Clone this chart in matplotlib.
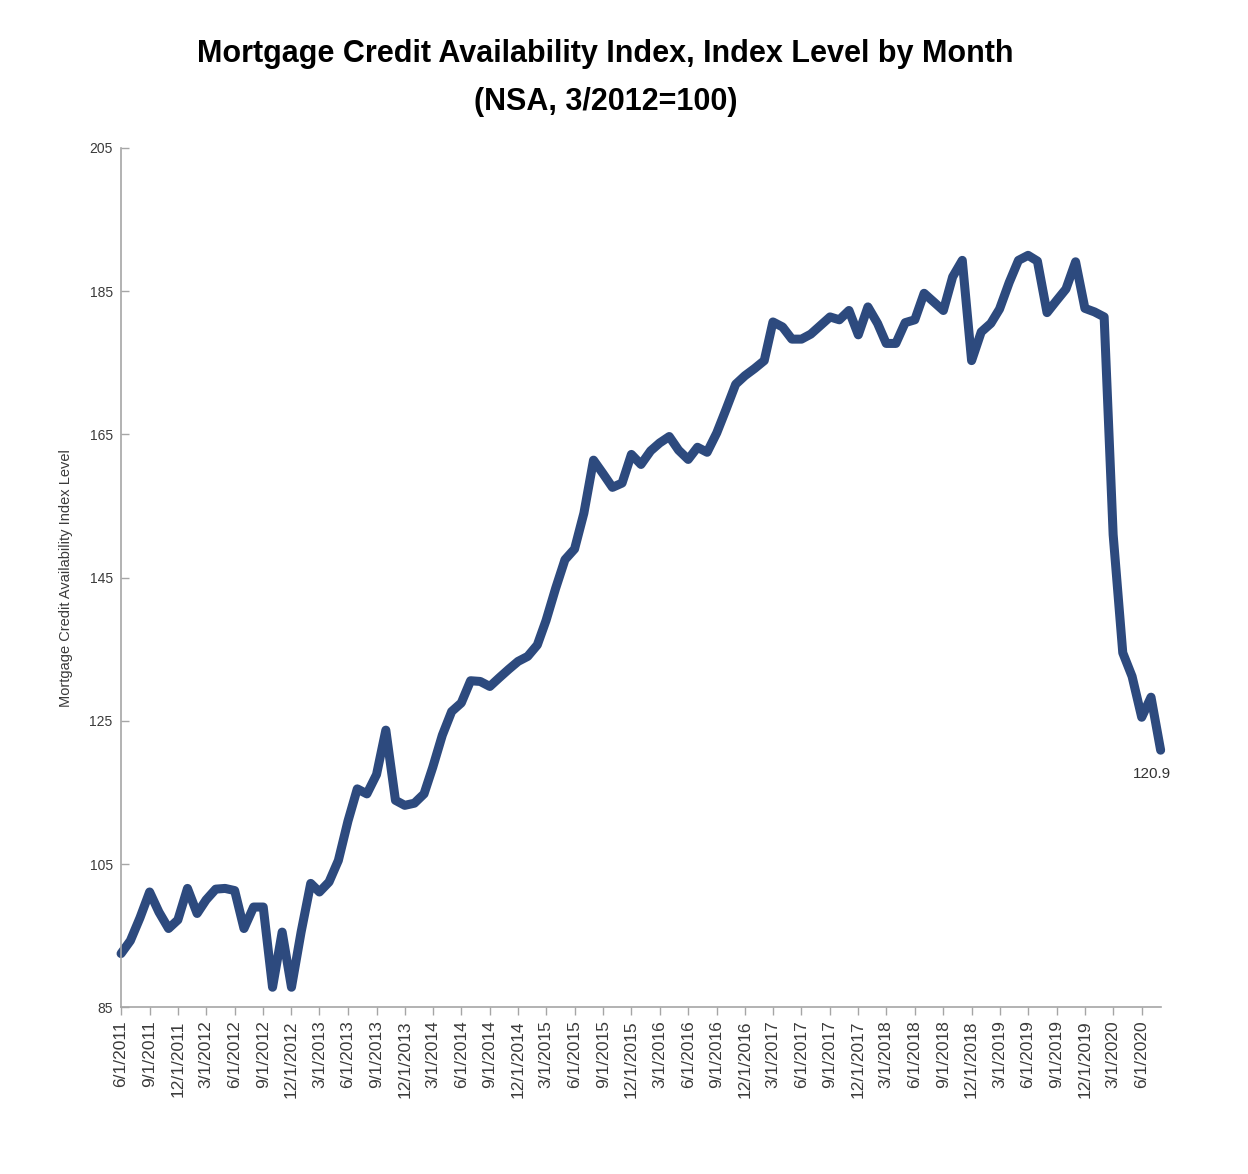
import matplotlib
matplotlib.use("Agg")
import matplotlib.pyplot as plt
import pandas as pd

# monthly index level, 6/2011 .. 8/2020
mcai = [
    92.5, 94.3, 97.5, 101.1, 98.3, 96.0, 97.2, 101.6, 98.1, 100.0,
    101.5, 101.6, 101.3, 96.0, 99.0, 99.0, 87.8, 95.5, 87.8, 95.5,
    102.3, 101.1, 102.5, 105.5, 111.0, 115.5, 114.8, 117.5, 123.7, 113.9,
    113.2, 113.5, 114.8, 118.5, 123.0, 126.3, 127.5, 130.6, 130.5, 129.8,
    131.0, 132.2, 133.3, 134.0, 135.6, 139.0, 143.5, 147.5, 149.0, 154.0,
    161.4, 159.5, 157.6, 158.2, 162.2, 160.8, 162.7, 163.8, 164.7, 162.8,
    161.5, 163.2, 162.5, 165.2, 168.5, 172.0, 173.2, 174.2, 175.3, 180.7,
    180.0, 178.3, 178.3, 179.0, 180.2, 181.4, 181.0, 182.3, 178.9, 182.8,
    180.5, 177.7, 177.7, 180.6, 181.0, 184.7, 183.5, 182.3, 187.0, 189.3,
    175.3, 179.3, 180.5, 182.5, 186.2, 189.3, 190.0, 189.2, 182.0, 183.7,
    185.3, 189.1, 182.6, 182.1, 181.4, 151.0, 134.5, 131.2, 125.5, 128.3,
    120.9,
]
start_month = "2011-06-01"
y_ticks = [85, 105, 125, 145, 165, 185, 205]
title = "Mortgage Credit Availability Index, Index Level by Month\n(NSA, 3/2012=100)"
y_label = "Mortgage Credit Availability Index Level"

months = pd.date_range(start_month, periods=len(mcai), freq="MS")
tick_months = months[::3]
tick_labels = [f"{d.month}/1/{d.year}" for d in tick_months]

plt.rcParams["font.family"] = ["Liberation Sans Narrow", "Liberation Sans", "DejaVu Sans"]

fig = plt.figure(figsize=(12.48, 11.74), dpi=100)
ax = fig.add_axes([0.097, 0.142, 0.833, 0.732])

ax.plot(months, mcai, color="#2d4a7e", linewidth=6.5, solid_joinstyle="round",
        solid_capstyle="round", clip_on=False)
ax.annotate(f"{mcai[-1]:.1f}", xy=(months[-1], mcai[-1]), xytext=(-6, -12),
            textcoords="offset points", ha="center", va="top", fontsize=11,
            color="#333333")

ax.set_xlim(months[0], months[-1])
ax.set_ylim(y_ticks[0], y_ticks[-1])
ax.set_yticks(y_ticks)
ax.set_xticks(tick_months)
ax.set_xticklabels(tick_labels, rotation=90)

for side in ["top", "right"]:
    ax.spines[side].set_visible(False)
for side in ["left", "bottom"]:
    ax.spines[side].set_color("#a6a6a6")
    ax.spines[side].set_linewidth(1.2)
ax.tick_params(axis="both", colors="#a6a6a6", labelcolor="#3a3a3a",
               length=6, width=1.0)
ax.tick_params(axis="x", labelsize=12.5)
ax.tick_params(axis="y", direction="in", pad=6, labelsize=10)

ax.set_ylabel(y_label, fontsize=10.5, color="#3a3a3a", labelpad=12)
fig.suptitle(title, fontsize=22, fontweight="bold", x=0.485, y=0.967,
             linespacing=1.8)

fig.savefig("out.png", dpi=100, facecolor="white")
